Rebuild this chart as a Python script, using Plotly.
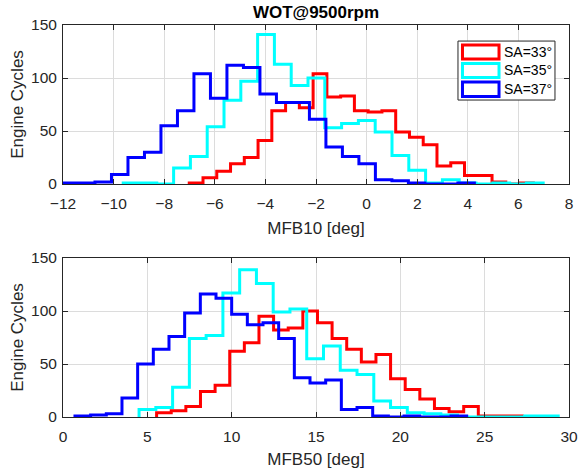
import numpy as np
import plotly.graph_objects as go

# Spark-advance settings and their line colours
sa_labels = ["SA=33°", "SA=35°", "SA=37°"]
sa_colors = ["#ff0000", "#00ffff", "#0000ff"]

# MFB10 histograms: first bin edge [deg], bin width [deg], counts per bin
mfb10_start = [-7.01, -9.62, -12.04]
mfb10_width = [0.544, 0.664, 0.652]
mfb10_sa33 = [1, 6, 12, 19, 25, 41, 69, 77, 72, 104, 82, 83, 69, 68, 69, 49, 44, 37, 17, 20, 8, 8, 2, 0, 1]
mfb10_sa35 = [1, 1, 0, 15, 26, 54, 79, 97, 141, 113, 93, 100, 53, 57, 60, 49, 27, 13, 1, 4, 1, 0, 1, 0, 1]
mfb10_sa37 = [1, 1, 2, 9, 25, 30, 55, 69, 104, 81, 112, 110, 85, 77, 77, 61, 35, 26, 19, 4, 3, 1, 0, 0, 1]

# MFB50 histograms: first bin edge [deg], bin width [deg], counts per bin
mfb50_start = [5.55, 4.51, 0.71]
mfb50_width = [0.867, 0.994, 0.929]
mfb50_sa33 = [4, 6, 10, 24, 30, 62, 70, 95, 82, 84, 100, 89, 74, 64, 52, 59, 36, 26, 17, 8, 5, 10, 1, 1, 1]
mfb50_sa35 = [7, 9, 28, 74, 77, 117, 139, 126, 99, 102, 55, 67, 44, 40, 15, 9, 4, 3, 2, 0, 0, 0, 0, 1, 1]
mfb50_sa37 = [1, 2, 3, 18, 50, 64, 76, 98, 116, 112, 97, 87, 89, 74, 37, 32, 35, 7, 9, 1, 0, 1, 0, 0, 1]

mfb10_ticks = list(range(-12, 9, 2))
mfb50_ticks = list(range(0, 31, 5))
count_ticks = [0, 50, 100, 150]


def stairs(start, width, counts):
    """Outline of a histogram drawn as stairs, closed down to zero at both ends."""
    counts = np.asarray(counts, dtype=float)
    edges = start + width * np.arange(len(counts) + 1)
    x = np.repeat(edges, 2)
    y = np.concatenate([[0.0], np.repeat(counts, 2), [0.0]])
    return x, y


fig = go.Figure()

for k, counts in enumerate([mfb10_sa33, mfb10_sa35, mfb10_sa37]):
    x, y = stairs(mfb10_start[k], mfb10_width[k], counts)
    fig.add_trace(go.Scatter(x=x, y=y, mode="lines", name=sa_labels[k],
                             line=dict(color=sa_colors[k], width=3),
                             showlegend=False, xaxis="x", yaxis="y"))

for k, counts in enumerate([mfb50_sa33, mfb50_sa35, mfb50_sa37]):
    x, y = stairs(mfb50_start[k], mfb50_width[k], counts)
    fig.add_trace(go.Scatter(x=x, y=y, mode="lines", name=sa_labels[k],
                             line=dict(color=sa_colors[k], width=3),
                             showlegend=False, xaxis="x2", yaxis="y2"))

ink = "#262626"
font_family = "Liberation Sans, Arial, Helvetica, sans-serif"

axis_style = dict(
    showline=True, linecolor=ink, linewidth=1, mirror="ticks",
    ticks="inside", ticklen=5, tickcolor=ink, tickwidth=1,
    showgrid=True, gridcolor="#dcdcdc", gridwidth=1, zeroline=False,
    automargin=False,
    tickfont=dict(size=15.5, color=ink, family=font_family),
)
title_font = dict(size=17, color=ink, family=font_family)

fig.update_layout(
    width=579, height=470,
    margin=dict(l=63, r=10, t=25, b=53),
    paper_bgcolor="white", plot_bgcolor="white",
    font=dict(family=font_family, color=ink),
    showlegend=False,
    title=dict(text="<b>WOT@9500rpm</b>", x=0.5, xref="paper",
               y=1 - 12 / 470, yref="container", yanchor="middle",
               font=dict(size=17, color="black", family=font_family)),
    xaxis=dict(axis_style, range=[-12, 8], tickvals=mfb10_ticks,
               domain=[0, 1], anchor="y", ticklabelstandoff=5,
               title=dict(text="MFB10 [deg]", font=title_font, standoff=11)),
    yaxis=dict(axis_style, range=[0, 150], tickvals=count_ticks,
               domain=[0.5944, 1], anchor="x", ticklabelstandoff=2,
               title=dict(text="Engine Cycles", font=title_font, standoff=3)),
    xaxis2=dict(axis_style, range=[0, 30], tickvals=mfb50_ticks,
                domain=[0, 1], anchor="y2", ticklabelstandoff=5,
                title=dict(text="MFB50 [deg]", font=title_font, standoff=9)),
    yaxis2=dict(axis_style, range=[0, 150], tickvals=count_ticks,
                domain=[0, 0.4056], anchor="x2", ticklabelstandoff=2,
                title=dict(text="Engine Cycles", font=title_font, standoff=3)),
)

# Legend box in the upper panel: outlined swatches next to the labels
shapes = [dict(type="rect", xref="x domain", yref="y domain",
               x0=0.7806, x1=0.9723, y0=0.528, y1=0.899,
               line=dict(color=ink, width=1), fillcolor="white", layer="above")]
swatch_rows = [(0.786, 0.874), (0.670, 0.758), (0.5503, 0.6415)]
for k, (y0, y1) in enumerate(swatch_rows):
    shapes.append(dict(type="rect", xref="x domain", yref="y domain",
                       x0=0.7895, x1=0.8617, y0=y0, y1=y1,
                       line=dict(color=sa_colors[k], width=3),
                       fillcolor="white", layer="above"))
    fig.add_annotation(xref="x domain", yref="y domain",
                       x=0.8676, y=(y0 + y1) / 2, xanchor="left", yanchor="middle",
                       text=sa_labels[k], showarrow=False,
                       font=dict(size=14, color="black", family=font_family))
fig.update_layout(shapes=shapes)

fig.write_html("out.html")
